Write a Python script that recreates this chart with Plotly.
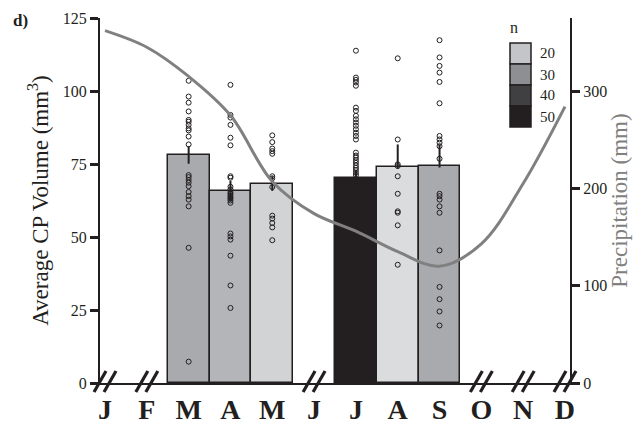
import plotly.graph_objects as go
from plotly.colors import sample_colorscale

# ---- data -------------------------------------------------------------
months = ["J", "F", "M", "A", "M", "J", "J", "A", "S", "O", "N", "D"]

# months (index into `months`) with sampled colonies
bar_month_idx = [2, 3, 4, 6, 7, 8]
cp_volume = [78.1, 65.7, 68.3, 70.3, 73.9, 74.3]
err_plus = [3.0, 3.5, 2.5, 2.5, 7.8, 7.4]
err_minus = [3.0, 3.5, 2.5, 2.5, 0.5, 0.5]
n_samples = [25, 23, 17, 50, 15, 25]

mar_pts = [103.5, 98.1, 96.0, 93.0, 90.1, 89.5, 88.4, 87.2, 86.5, 84.4, 81.7,
           71.2, 70.5, 69.5, 68.6, 67.4, 65.4, 64.0, 62.8, 60.5, 46.3, 7.3]
apr_pts = [102.1, 91.8, 90.9, 88.4, 84.0, 81.4, 70.8, 70.3, 67.2, 66.3, 65.4,
           64.8, 64.2, 63.6, 63.1, 62.5, 61.7, 51.2, 50.2, 49.1, 43.6, 33.4, 25.7]
may_pts = [84.8, 82.5, 80.3, 79.4, 78.5, 70.8, 70.1, 67.1, 57.3, 56.3, 54.8,
           53.3, 48.9]
jul_pts = [113.8, 104.6, 103.8, 102.9, 101.8, 94.3, 93.2, 91.5, 90.3, 89.2,
           88.1, 86.9, 85.7, 84.6, 83.4, 78.9, 77.9, 77.2, 76.3, 75.4, 74.5,
           73.7, 72.9, 72.0, 71.2]
aug_pts = [111.2, 83.4, 74.9, 74.3, 70.8, 64.8, 58.8, 58.3, 54.0, 40.5]
sep_pts = [117.4, 111.5, 108.6, 106.3, 103.1, 95.8, 84.6, 83.4, 82.3, 81.1,
           76.8, 64.8, 64.0, 62.8, 60.5, 58.3, 45.4, 32.9, 28.7, 24.5, 19.7]
colony_pts = [mar_pts, apr_pts, may_pts, jul_pts, aug_pts, sep_pts]

# monthly precipitation (mm)
precip = [362, 345, 315, 275, 207, 174, 156, 135, 120, 143, 205, 284]

n_legend = [20, 30, 40, 50]

# ---- styling ----------------------------------------------------------
INK = "#231f20"
SERIF = "Liberation Serif"
N_MIN, N_MAX = 10, 50
n_scale = [[0.0, "#f2f2f3"], [0.25, "#c4c5c8"], [0.5, "#8e8f92"],
           [0.75, "#404042"], [1.0, "#231f20"]]
X_RANGE = [-0.12, 11.12]

fig = go.Figure()

fig.add_trace(go.Bar(
    x=bar_month_idx, y=cp_volume, width=1,
    marker=dict(color=n_samples, colorscale=n_scale, cmin=N_MIN, cmax=N_MAX,
                line=dict(color=INK, width=1.5)),
    error_y=dict(type="data", symmetric=False, array=err_plus,
                 arrayminus=err_minus, color=INK, thickness=2, width=0),
    showlegend=False,
))

for idx, pts in zip(bar_month_idx, colony_pts):
    fig.add_trace(go.Scatter(
        x=[idx] * len(pts), y=pts, mode="markers",
        marker=dict(symbol="circle-open", size=5, color=INK,
                    line=dict(width=1, color=INK)),
        showlegend=False, cliponaxis=False,
    ))

fig.add_trace(go.Scatter(
    x=list(range(len(months))), y=precip, yaxis="y2", mode="lines",
    line=dict(color="#808080", width=3, shape="spline", smoothing=1.0),
    showlegend=False,
))

# axis-break marks on the empty months
shapes = []
span = X_RANGE[1] - X_RANGE[0]
for i in range(len(months)):
    if i in bar_month_idx:
        continue
    xa = (i - X_RANGE[0]) / span
    for off in (-5, 5):
        shapes.append(dict(
            type="line", xref="paper", yref="paper",
            xsizemode="pixel", ysizemode="pixel", xanchor=xa, yanchor=0,
            x0=off - 6, x1=off + 6, y0=-9, y1=12,
            line=dict(color=INK, width=3.2),
        ))

# sample-size key
box_colors = sample_colorscale(n_scale, [(v - N_MIN) / (N_MAX - N_MIN) for v in n_legend])
annotations = []
top_px, box_h = 43, 21
for k, (val, col) in enumerate(zip(n_legend, box_colors)):
    y_top = (383 - (top_px + k * box_h)) / 365
    y_bot = (383 - (top_px + (k + 1) * box_h)) / 365
    shapes.append(dict(type="rect", xref="paper", yref="paper",
                       x0=(510 - 100) / 470, x1=(531 - 100) / 470,
                       y0=y_bot, y1=y_top, fillcolor=col,
                       line=dict(color=INK, width=1.5)))
    annotations.append(dict(xref="paper", yref="paper",
                            x=(538 - 100) / 470, y=(y_top + y_bot) / 2,
                            text=str(val), showarrow=False, xanchor="left",
                            yanchor="middle",
                            font=dict(family=SERIF, size=15, color=INK)))
annotations.append(dict(xref="paper", yref="paper", x=(514 - 100) / 470,
                        y=(383 - 27) / 365, text="n", showarrow=False,
                        xanchor="center", yanchor="middle",
                        font=dict(family=SERIF, size=16, color=INK)))
annotations.append(dict(xref="paper", yref="paper", x=(20 - 100) / 470,
                        y=(383 - 21) / 365, text="<b>d)</b>", showarrow=False,
                        xanchor="center", yanchor="middle",
                        font=dict(family=SERIF, size=17, color=INK)))

fig.update_layout(
    width=638, height=425,
    margin=dict(l=100, r=68, t=18, b=42, pad=0),
    paper_bgcolor="white", plot_bgcolor="white",
    bargap=0, showlegend=False,
    shapes=shapes, annotations=annotations,
    font=dict(family=SERIF, color=INK),
    xaxis=dict(
        range=X_RANGE, tickmode="array", automargin=False,
        tickvals=list(range(len(months))), ticktext=months,
        tickfont=dict(family=SERIF, size=28, color=INK, weight="bold"),
        ticks="", showline=True, linecolor=INK, linewidth=2,
        showgrid=False, zeroline=False,
    ),
    yaxis=dict(
        range=[0, 125], tickvals=[0, 25, 50, 75, 100, 125], automargin=False,
        ticks="outside", ticklen=8, tickwidth=2.5, tickcolor=INK,
        showline=True, linecolor=INK, linewidth=2,
        showgrid=False, zeroline=False,
        tickfont=dict(family=SERIF, size=16, color=INK),
        title=dict(text="Average CP Volume (mm<sup>3</sup>)",
                   font=dict(family=SERIF, size=23, color=INK), standoff=8),
    ),
    yaxis2=dict(
        overlaying="y", side="right", range=[0, 375], automargin=False,
        tickvals=[0, 100, 200, 300],
        ticks="outside", ticklen=8, tickwidth=2.5, tickcolor=INK,
        showline=True, linecolor=INK, linewidth=2,
        showgrid=False, zeroline=False,
        tickfont=dict(family=SERIF, size=16, color=INK),
        title=dict(text="Precipitation (mm)",
                   font=dict(family=SERIF, size=23, color="#808080"), standoff=4),
    ),
)

fig.write_html("out.html")
